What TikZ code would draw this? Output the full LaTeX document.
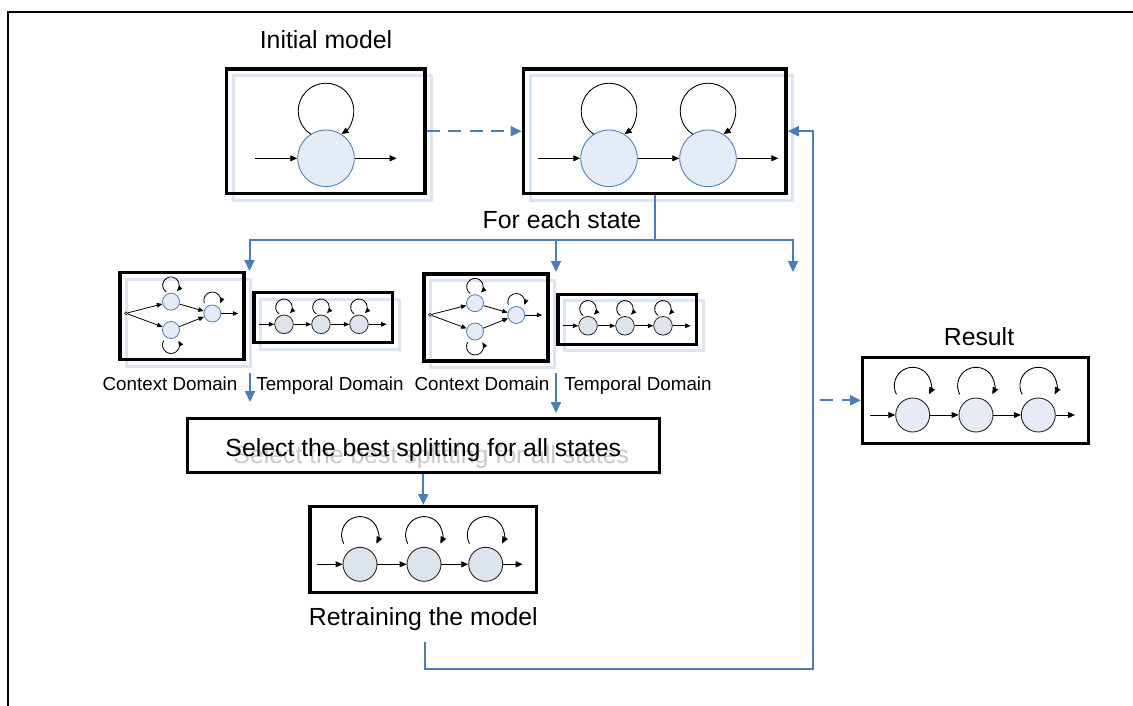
\documentclass[tikz,border=0pt]{standalone}
\usepackage{fontspec}
\setmainfont{Liberation Sans}
\usetikzlibrary{arrows.meta,calc}

\definecolor{linkblue}{RGB}{74,126,187}
\definecolor{shadowblue}{RGB}{218,228,242}
\definecolor{stateedge}{RGB}{79,129,189}
\definecolor{statefill}{RGB}{229,236,247}
\definecolor{grayfill}{RGB}{222,228,238}
\definecolor{ghostgray}{RGB}{200,200,200}

\newcommand\bigfont{\fontsize{24.8}{29}\selectfont}
\newcommand\smallfont{\fontsize{18.8}{22}\selectfont}

% framed model box with its pale offset outline: name, centre x, centre y, width, height
\newcommand\framedbox[5]{%
  \node[shadowrect, minimum width=#4pt, minimum height=#5pt] (#1-sh) at (#2+6.7,#3+6.7) {};
  \node[modelbox, minimum width=#4pt, minimum height=#5pt] (#1) at (#2,#3) {};}

% self-transition arc: [style] state, loop centre offset, loop radius, start angle, end angle
\newcommand\selfloop[6][flow]{%
  \draw[#1] ($(#2.center)+(0,#3)+(#5:#4)$) arc[start angle=#5,end angle=#6,radius=#4];}

\begin{document}
\begin{tikzpicture}[x=1pt,y=-1pt,
  frameline/.style={line width=2pt},
  modelbox/.style={draw=black, line width=3.4pt, inner sep=0pt},
  shadowrect/.style={draw=shadowblue, line width=3pt, inner sep=0pt},
  bigstate/.style={circle, draw=stateedge, fill=statefill, line width=0.9pt, minimum size=56.6pt, inner sep=0pt},
  ctxstate/.style={circle, draw=stateedge, fill=statefill, line width=0.8pt, minimum size=17pt, inner sep=0pt},
  tmpstate/.style={circle, draw=black!85, fill=grayfill, line width=0.8pt, minimum size=18.6pt, inner sep=0pt},
  midstate/.style={circle, draw=black!85, fill=grayfill, line width=0.9pt, minimum size=34pt, inner sep=0pt},
  resstate/.style={midstate, fill=statefill},
  dotnode/.style={circle, draw=black, fill=white, line width=0.5pt, minimum size=3pt, inner sep=0pt},
  flow/.style={line width=0.9pt, -{Triangle[length=7pt,width=6pt]}},
  smallflow/.style={line width=0.8pt, -{Triangle[length=5.5pt,width=4.5pt]}},
  link/.style={draw=linkblue, line width=2pt},
  linkarrow/.style={link, -{Triangle[length=11pt,width=10pt]}},
  dashedlink/.style={dash pattern=on 13pt off 8.5pt},
  bigtext/.style={font=\bigfont, inner sep=0pt},
  smalltext/.style={font=\smallfont, inner sep=0pt}]

\useasboundingbox (0,0) rectangle (1133,706);
\draw[frameline] (8,706) -- (8,12.5) -- (1133,12.5);

% ---- initial one-state model
\node[bigtext, anchor=base] (tInit) at (326,49) {Initial model};
\framedbox{b1}{325.8}{131.2}{198.3}{124.3}
\node[bigstate] (s1) at (326,158.3) {};
\coordinate (s1in) at (255,158.3);
\coordinate (s1out) at (396.7,158.3);
\draw[flow] (s1in) -- (s1);
\draw[flow] (s1) -- (s1out);
\selfloop{s1}{-47.3}{27.8}{123}{416}

% ---- two-state model
\framedbox{b2}{654.7}{131.2}{262.7}{124.3}
\node[bigstate] (s2a) at (609,158.3) {};
\node[bigstate] (s2b) at (708,158.3) {};
\coordinate (s2in) at (537.7,158.3);
\coordinate (s2out) at (778.3,158.3);
\draw[flow] (s2in) -- (s2a);
\draw[flow] (s2a) -- (s2b);
\draw[flow] (s2b) -- (s2out);
\selfloop{s2a}{-47.3}{27.8}{123}{416}
\selfloop{s2b}{-47.3}{27.8}{123}{416}

\draw[linkarrow, dashedlink] (b1.east) -- (b2.west);

% ---- fan-out for each state
\node[bigtext, anchor=base] (tEach) at (562,228) {For each state};
\coordinate (forkjoin) at (654.7,240);
\coordinate (fM) at (556,240);
\coordinate (aL) at (249.5,271);
\coordinate (aM) at (556,272);
\coordinate (aR) at (793,272);
\draw[link] (b2.south) -- (forkjoin);
\draw[linkarrow] (forkjoin) -| (aL);
\draw[linkarrow] (forkjoin) -| (aR);
\draw[linkarrow] (fM) -- (aM);

% ---- context and temporal splits
\foreach \i/\dx/\dy/\cxl/\txl in {1/0/0/170/330, 2/304/1.5/482/638}{
  \begin{scope}[shift={(\dx,\dy)}]
    \framedbox{ctx\i}{182}{316}{124}{86.7}
    \node[dotnode] (dot\i) at (126,313.3) {};
    \node[ctxstate] (cu\i) at (171,301.7) {};
    \node[ctxstate] (cl\i) at (171,330) {};
    \node[ctxstate] (cr\i) at (212.3,313.5) {};
    \coordinate (cout\i) at (238.3,313.5);
    \draw[smallflow] (dot\i) -- (cu\i);
    \draw[smallflow] (dot\i) -- (cl\i);
    \draw[smallflow] (cu\i) -- (cr\i);
    \draw[smallflow] (cl\i) -- (cr\i);
    \draw[smallflow] (cr\i) -- (cout\i);
    \selfloop[smallflow]{cu\i}{-16.5}{8.3}{125}{405}
    \selfloop[smallflow]{cl\i}{15}{8.5}{-150}{-390}
    \selfloop[smallflow]{cr\i}{-13}{8.5}{160}{380}

    \framedbox{tmp\i}{323.3}{317.7}{138.7}{50}
    \node[tmpstate] (ta\i) at (284,324.3) {};
    \node[tmpstate] (tb\i) at (321,324.3) {};
    \node[tmpstate] (tc\i) at (359,324.3) {};
    \coordinate (tin\i) at (259.3,324.3);
    \coordinate (tout\i) at (386.7,324.3);
    \draw[smallflow] (tin\i) -- (ta\i);
    \draw[smallflow] (ta\i) -- (tb\i);
    \draw[smallflow] (tb\i) -- (tc\i);
    \draw[smallflow] (tc\i) -- (tout\i);
    \selfloop[smallflow]{ta\i}{-17}{8.3}{125}{405}
    \selfloop[smallflow]{tb\i}{-17}{8.3}{125}{405}
    \selfloop[smallflow]{tc\i}{-17}{8.3}{125}{405}
  \end{scope}
  \node[smalltext, anchor=base] (ctxlab\i) at (\cxl,390.7) {Context Domain};
  \node[smalltext, anchor=base] (tmplab\i) at (\txl,390.7) {Temporal Domain};
}

\coordinate (dL0) at (250,373);
\coordinate (dL1) at (250,402);
\coordinate (dM0) at (556,373);
\coordinate (dM1) at (556,413);
\draw[linkarrow] (dL0) -- (dL1);
\draw[linkarrow] (dM0) -- (dM1);

% ---- selection step (title set with a soft grey drop shadow)
\node[modelbox, minimum width=472pt, minimum height=54.4pt] (sel) at (423.3,445.5) {};
\node[bigtext, text=ghostgray, anchor=base] (selGhost) at (431.3,463.7) {Select the best splitting for all states};
\node[bigtext, anchor=base] (selText) at (423.3,456.7) {Select the best splitting for all states};

% ---- retrained model
\node[modelbox, minimum width=226.7pt, minimum height=86pt] (ret) at (423.3,549.7) {};
\node[midstate] (r1) at (360,564.3) {};
\node[midstate] (r2) at (424,564.3) {};
\node[midstate] (r3) at (485.7,564.3) {};
\coordinate (rin) at (316.7,564.3);
\coordinate (rout) at (522.7,564.3);
\draw[flow] (rin) -- (r1);
\draw[flow] (r1) -- (r2);
\draw[flow] (r2) -- (r3);
\draw[flow] (r3) -- (rout);
\selfloop{r1}{-29.3}{18.4}{152}{388}
\selfloop{r2}{-29.3}{18.4}{152}{388}
\selfloop{r3}{-29.3}{18.4}{152}{388}
\node[bigtext, anchor=base] (tRet) at (423.3,625.7) {Retraining the model};

\draw[linkarrow] (sel.south) -- (ret.north);

% ---- feedback loop to the split model
\coordinate (fb0) at (425,641.7);
\coordinate (fbc) at (813.3,669.3);
\draw[linkarrow] (fb0) |- (fbc) |- (b2.east);

% ---- final result
\node[bigtext, anchor=base] (tRes) at (979,345) {Result};
\node[modelbox, minimum width=225.6pt, minimum height=86pt] (res) at (975.5,400.3) {};
\node[resstate] (q1) at (912.7,415) {};
\node[resstate] (q2) at (976,415) {};
\node[resstate] (q3) at (1038.3,415) {};
\coordinate (qin) at (870,415);
\coordinate (qout) at (1075,415);
\draw[flow] (qin) -- (q1);
\draw[flow] (q1) -- (q2);
\draw[flow] (q2) -- (q3);
\draw[flow] (q3) -- (qout);
\selfloop{q1}{-29.3}{18.4}{152}{388}
\selfloop{q2}{-29.3}{18.4}{152}{388}
\selfloop{q3}{-29.3}{18.4}{152}{388}

\coordinate (dres) at (820,400.3);
\draw[linkarrow, dashedlink] (dres) -- (res.west);
\end{tikzpicture}
\end{document}
